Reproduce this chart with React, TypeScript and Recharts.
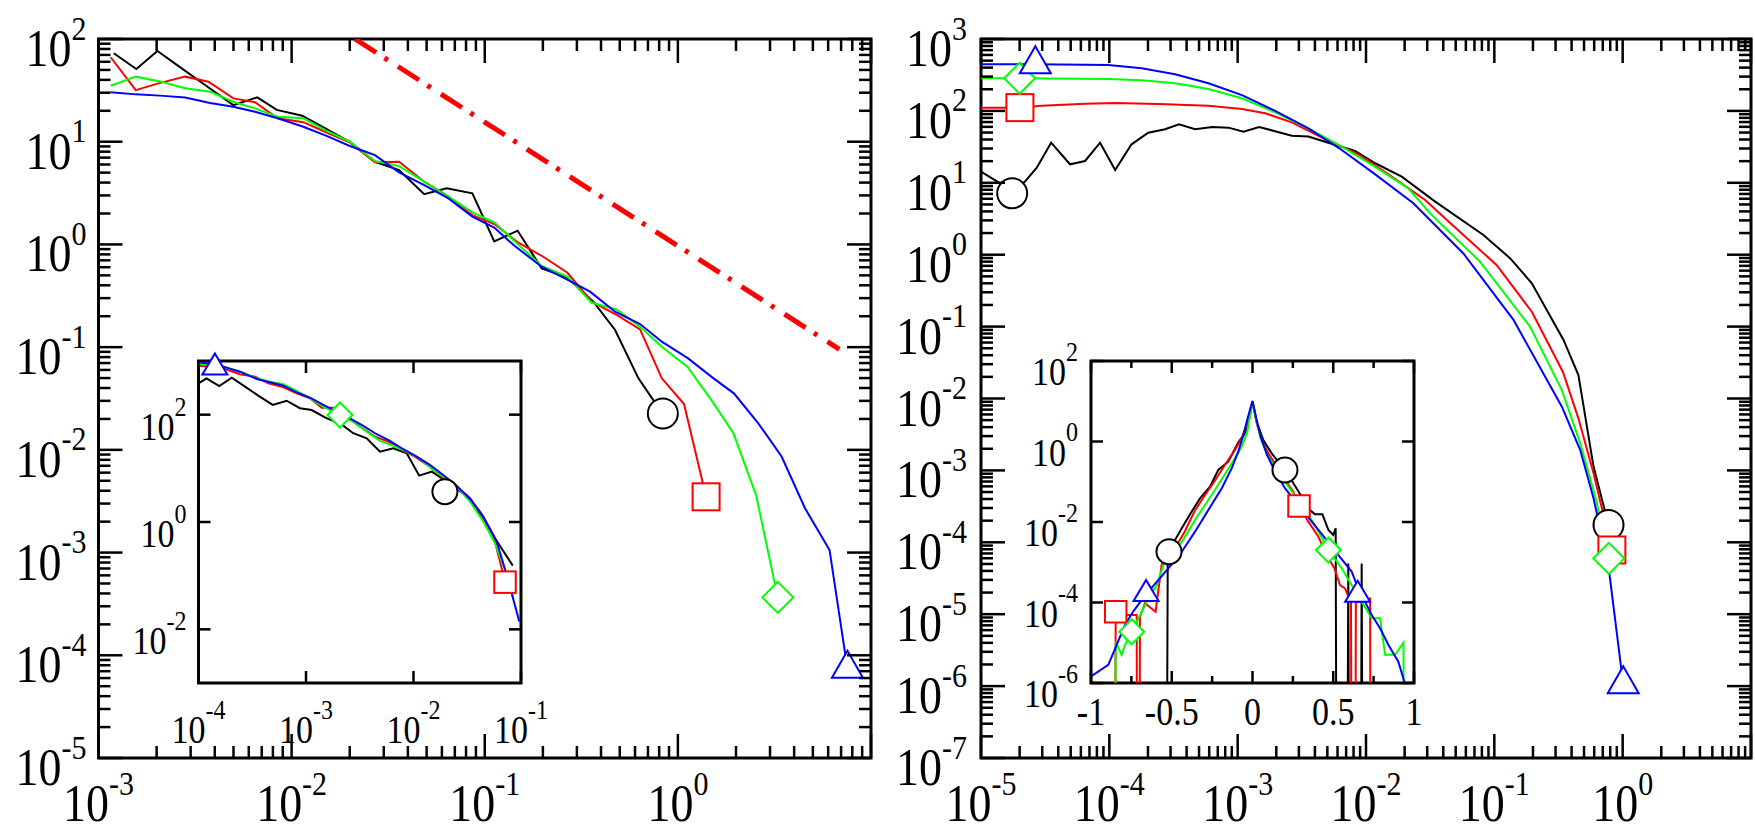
import React from "react";
import { ComposedChart, Line, XAxis, YAxis, ReferenceArea } from "recharts";

type Pt = [number, number];
type Row = { x: number; y: number };

// empty histogram bin: sits far below every y axis, so the curve drops off the frame
const EMPTY = 1e-30;

// ---------- left panel ----------
const leftBlack: Pt[] = [
  [1.2e-3, 72.6], [1.57e-3, 51.1], [2.02e-3, 76.4], [2.63e-3, 53.6], [3.55e-3, 35.9],
  [4.99e-3, 22.7], [6.64e-3, 27.0], [8.38e-3, 20.4], [1.135e-2, 17.9], [1.51e-2, 13.3],
  [2.0e-2, 10.0], [2.7e-2, 6.38], [3.6e-2, 5.3], [4.86e-2, 3.08], [6.35e-2, 3.52],
  [8.63e-2, 3.14], [0.112, 1.07], [0.148, 1.36], [0.197, 0.585], [0.266, 0.479],
  [0.365, 0.277], [0.473, 0.147], [0.625, 0.0497], [0.746, 0.0305], [0.836, 0.0226],
];
const leftRed: Pt[] = [
  [1.156e-3, 66.4], [1.56e-3, 31.8], [2.04e-3, 37.0], [2.81e-3, 43.0], [3.71e-3, 38.4],
  [4.99e-3, 26.4], [6.46e-3, 24.2], [8.47e-3, 16.9], [1.15e-2, 15.5], [1.55e-2, 12.1],
  [2.0e-2, 9.86], [2.7e-2, 6.3], [3.6e-2, 6.38], [4.86e-2, 4.08], [6.49e-2, 2.92],
  [8.63e-2, 1.93], [0.112, 1.58], [0.147, 1.06], [0.201, 0.759], [0.268, 0.53],
  [0.358, 0.277], [0.482, 0.206], [0.637, 0.149], [0.826, 0.0497], [1.076, 0.0279],
  [1.4, 3.49e-3],
];
const leftGreen: Pt[] = [
  [1.156e-3, 35.1], [1.56e-3, 43.0], [2.12e-3, 38.4], [2.81e-3, 33.1], [3.78e-3, 30.7],
  [4.99e-3, 24.5], [6.46e-3, 21.1], [8.47e-3, 17.5], [1.15e-2, 16.9], [1.55e-2, 12.5],
  [2.0e-2, 10.0], [2.7e-2, 6.49], [3.6e-2, 5.79], [4.86e-2, 4.08], [6.49e-2, 2.92],
  [8.63e-2, 2.05], [0.112, 1.64], [0.141, 1.1], [0.197, 0.617], [0.268, 0.485],
  [0.358, 0.27], [0.482, 0.233], [0.637, 0.158], [0.826, 0.101], [1.12, 0.0644],
  [1.47, 0.0317], [1.94, 0.0145], [2.54, 3.63e-3], [3.29, 3.66e-4],
];
const leftBlue: Pt[] = [
  [1.156e-3, 30.3], [1.56e-3, 28.9], [2.08e-3, 28.1], [2.81e-3, 26.9], [3.78e-3, 23.8],
  [4.99e-3, 21.9], [6.46e-3, 19.6], [8.47e-3, 16.9], [1.15e-2, 14.0], [1.55e-2, 11.2],
  [2.0e-2, 9.08], [2.7e-2, 7.41], [3.6e-2, 5.04], [4.86e-2, 3.78], [6.49e-2, 2.81],
  [8.63e-2, 1.86], [0.112, 1.46], [0.141, 0.986], [0.197, 0.607], [0.266, 0.457],
  [0.351, 0.347], [0.473, 0.221], [0.637, 0.168], [0.826, 0.113], [1.13, 0.0778],
  [1.53, 0.0497], [1.95, 0.0355], [2.61, 0.0181], [3.45, 8.57e-3], [4.56, 2.69e-3],
  [6.1, 1.06e-3], [7.55, 7.41e-5],
];
// power-law guide, dash-dot
const leftGuide: Pt[] = [[0.0213, 100], [6.86, 0.0953]];
const leftBlackMarks: Pt[] = [[0.836, 0.0226]];
const leftRedMarks: Pt[] = [[1.4, 3.49e-3]];
const leftGreenMarks: Pt[] = [[3.29, 3.66e-4]];
const leftBlueMarks: Pt[] = [[7.55, 7.41e-5]];

// ---------- left inset ----------
const insetBlack: Pt[] = [
  [1.0e-4, 384], [1.19e-4, 475], [1.56e-4, 342], [2.04e-4, 490], [2.71e-4, 333],
  [3.6e-4, 226], [4.9e-4, 152], [6.61e-4, 182], [8.79e-4, 132], [1.13e-3, 122],
  [1.56e-3, 85.7], [2.07e-3, 69.2], [2.75e-3, 45.1], [3.67e-3, 36.3], [4.88e-3, 20.5],
  [6.49e-3, 23.7], [8.65e-3, 19.1], [1.13e-2, 7.31], [1.48e-2, 8.69], [2.04e-2, 5.65],
  [2.61e-2, 3.96], [3.36e-2, 2.77], [4.46e-2, 1.18], [5.85e-2, 0.465], [8.38e-2, 0.154],
];
const insetRed: Pt[] = [
  [1.0e-4, 817], [1.28e-4, 783], [1.7e-4, 731], [2.43e-4, 565], [3.36e-4, 511],
  [4.47e-4, 384], [5.94e-4, 332], [8.18e-4, 250], [1.09e-3, 202], [1.4e-3, 135],
  [1.79e-3, 135], [2.39e-3, 91.8], [3.18e-3, 59.8], [4.39e-3, 38.9], [5.83e-3, 31.4],
  [7.76e-3, 22.0], [1.03e-2, 16.5], [1.42e-2, 10.8], [1.89e-2, 6.55], [2.43e-2, 4.56],
  [3.13e-2, 3.2], [4.16e-2, 1.56], [5.52e-2, 0.575], [6.38e-2, 0.183], [7.1e-2, 0.0757],
];
const insetGreen: Pt[] = [
  [1.0e-4, 867], [1.28e-4, 867], [1.7e-4, 783], [2.43e-4, 632], [3.48e-4, 475],
  [4.62e-4, 412], [6.15e-4, 368], [8.18e-4, 276], [1.09e-3, 202], [1.45e-3, 141],
  [2.07e-3, 98.6], [2.75e-3, 74.1], [3.67e-3, 48.3], [4.88e-3, 32.4], [6.49e-3, 26.5],
  [8.65e-3, 20.5], [1.15e-2, 15.0], [1.53e-2, 9.33], [2.04e-2, 6.35], [2.61e-2, 4.26],
  [3.36e-2, 2.4], [4.46e-2, 1.02], [5.73e-2, 0.403], [7.36e-2, 0.104], [8.47e-2, 0.0381],
];
const insetBlue: Pt[] = [
  [1.0e-4, 944], [1.37e-4, 867], [1.83e-4, 752], [2.43e-4, 632], [3.48e-4, 462],
  [4.62e-4, 401], [6.15e-4, 347], [8.18e-4, 261], [1.09e-3, 207], [1.45e-3, 152],
  [1.93e-3, 114], [2.56e-3, 85.7], [3.41e-3, 61.7], [4.55e-3, 43.2], [6.04e-3, 32.4],
  [8.04e-3, 22.7], [1.07e-2, 16.5], [1.42e-2, 11.6], [1.89e-2, 7.53], [2.52e-2, 4.76],
  [3.36e-2, 2.69], [4.46e-2, 1.26], [5.94e-2, 0.432], [7.36e-2, 0.104], [9.64e-2, 0.014],
];
const insetBlackMarks: Pt[] = [[1.96e-2, 3.68]];
const insetRedMarks: Pt[] = [[7.1e-2, 0.0757]];
const insetGreenMarks: Pt[] = [[2.07e-3, 98.6]];
const insetBlueMarks: Pt[] = [[1.42e-4, 760]];

// ---------- right panel ----------
const rightBlack: Pt[] = [
  [1e-5, 14.3], [1.41e-5, 9.84], [1.75e-5, 7.14], [2.2e-5, 10.4], [2.72e-5, 16.2],
  [3.52e-5, 36.1], [4.94e-5, 18.1], [6.47e-5, 20.1], [8.47e-5, 36.1], [1.11e-4, 15.1],
  [1.49e-4, 34.3], [2.01e-4, 49.8], [2.72e-4, 55.5], [3.49e-4, 65.0], [4.66e-4, 55.5],
  [6.35e-4, 59.7], [8.47e-4, 58.5], [1.11e-3, 51.4], [1.47e-3, 59.7], [2.02e-3, 51.4],
  [2.64e-3, 45.2], [3.56e-3, 43.9], [4.8e-3, 37.3], [8.22e-3, 27.7], [1.18e-2, 18.7],
  [1.9e-2, 12.2], [3.46e-2, 5.47], [8.22e-2, 1.88], [0.133, 0.889], [0.196, 0.4],
  [0.346, 0.0652], [0.452, 0.0212], [0.593, 1.13e-3], [0.776, 1.74e-4],
];
const rightRed: Pt[] = [
  [1e-5, 111], [2.01e-5, 111], [2.97e-5, 118], [6.47e-5, 126], [1.11e-4, 129],
  [2.41e-4, 125], [5.92e-4, 118], [1.08e-3, 106], [1.64e-3, 92.7], [2.64e-3, 69.3],
  [4.8e-3, 40.6], [8.73e-3, 24.9], [1.59e-2, 12.2], [2.89e-2, 5.77], [4.27e-2, 3.04],
  [0.104, 0.719], [0.196, 0.161], [0.342, 0.0236], [0.452, 5.3e-3], [0.593, 9.1e-4],
  [0.824, 7.82e-5],
];
const rightGreen: Pt[] = [
  [1e-5, 284], [2.0e-5, 284], [9.82e-5, 278], [1.79e-4, 266], [3.25e-4, 242],
  [5.92e-4, 202], [1.08e-3, 150], [1.96e-3, 95.5], [3.56e-3, 57.3], [6.47e-3, 31.8],
  [1.18e-2, 16.7], [2.14e-2, 8.37], [3.16e-2, 3.76], [7.74e-2, 0.8], [0.19, 0.0998],
  [0.336, 0.0131], [0.467, 2.38e-3], [0.622, 3.87e-4], [0.78, 5.98e-5],
];
const rightBlue: Pt[] = [
  [1e-5, 445], [2.65e-5, 445], [9.82e-5, 435], [1.79e-4, 391], [3.25e-4, 323],
  [5.92e-4, 242], [1.08e-3, 166], [1.96e-3, 100], [3.56e-3, 57.3], [6.47e-3, 28.6],
  [1.18e-2, 13.1], [2.34e-2, 5.19], [5.74e-2, 1.04], [0.141, 0.124], [0.336, 7.69e-3],
  [0.467, 1.92e-3], [0.593, 4.09e-4], [0.776, 4.58e-5], [1.01, 1.06e-6],
];
const rightBlackMarks: Pt[] = [[1.75e-5, 7.14], [0.776, 1.74e-4]];
const rightRedMarks: Pt[] = [[2.01e-5, 111], [0.824, 7.82e-5]];
const rightGreenMarks: Pt[] = [[2.0e-5, 284], [0.78, 5.98e-5]];
const rightBlueMarks: Pt[] = [[2.65e-5, 445], [1.01, 1.06e-6]];

// ---------- right inset (linear x) ----------
const pdfBlack: Pt[] = [
  [-1, EMPTY], [-0.55, EMPTY], [-0.525, 9.33e-4], [-0.511, 1.51e-3], [-0.48, 3.55e-3],
  [-0.438, 6.97e-3], [-0.377, 1.8e-2], [-0.325, 3.87e-2], [-0.263, 7.55e-2], [-0.212, 0.196],
  [-0.15, 0.315], [-0.088, 0.953], [-0.046, 1.6], [-0.019, 3.77], [0, 10.1],
  [0.026, 3.1], [0.067, 1.09], [0.119, 0.509], [0.201, 0.196], [0.253, 0.0914],
  [0.305, 0.0426], [0.356, 0.0199], [0.387, 0.0155], [0.433, 0.0155], [0.47, 6.32e-3],
  [0.5, 4.79e-3], [0.515, 6.97e-3], [0.535, EMPTY], [0.57, EMPTY], [0.593, 9.33e-4],
  [0.615, EMPTY], [0.655, EMPTY], [0.676, 9.33e-4], [0.7, EMPTY], [1, EMPTY],
];
const pdfRed: Pt[] = [
  [-1, EMPTY], [-0.87, EMPTY], [-0.847, 5.89e-5], [-0.8, 4.9e-5], [-0.75, 4.9e-5],
  [-0.717, 4.9e-5], [-0.707, EMPTY], [-0.697, 4.47e-5], [-0.666, 9.55e-5], [-0.6, 5.89e-5],
  [-0.562, 8.91e-4], [-0.521, 1.26e-3], [-0.48, 2.24e-3], [-0.42, 5.75e-3], [-0.36, 1.82e-2],
  [-0.294, 4.68e-2], [-0.232, 0.107], [-0.171, 0.261], [-0.109, 0.617], [-0.067, 1.21],
  [-0.036, 2.57], [0, 10.1], [0.026, 2.83], [0.057, 1.09], [0.098, 0.509],
  [0.15, 0.237], [0.201, 0.111], [0.253, 0.0568], [0.288, 0.025], [0.346, 0.0102],
  [0.408, 4.33e-3], [0.459, 1.51e-3], [0.507, 7.08e-4], [0.542, 2.69e-4], [0.573, 2.24e-4],
  [0.61, 1.0e-4], [0.625, EMPTY], [0.64, 1.0e-4], [0.68, 1.12e-4], [0.728, 1.26e-4],
  [0.745, EMPTY], [1, EMPTY],
];
const pdfGreen: Pt[] = [
  [-1, EMPTY], [-0.87, EMPTY], [-0.847, 1.07e-5], [-0.81, 5.01e-6], [-0.789, 8.8e-6],
  [-0.748, 1.88e-5], [-0.645, 1.26e-4], [-0.593, 2.69e-4], [-0.552, 8.51e-4], [-0.48, 1.66e-3],
  [-0.418, 4.33e-3], [-0.356, 1.12e-2], [-0.294, 2.64e-2], [-0.232, 6.31e-2], [-0.171, 0.153],
  [-0.109, 0.382], [-0.067, 0.741], [-0.032, 1.76], [0, 10.1], [0.023, 3.42],
  [0.05, 1.2], [0.091, 0.461], [0.15, 0.196], [0.222, 0.0755], [0.305, 0.0264],
  [0.387, 8.32e-3], [0.47, 2.01e-3], [0.552, 7.08e-4], [0.614, 2.69e-4], [0.676, 1.05e-4],
  [0.738, 4.07e-5], [0.79, 4.07e-5], [0.821, 5.01e-6], [0.883, 5.01e-6], [0.935, 1.0e-5],
  [0.95, EMPTY], [1, EMPTY],
];
const pdfBlue: Pt[] = [
  [-1, 1.45e-6], [-0.893, 2.82e-6], [-0.841, 8.91e-6], [-0.789, 2.82e-5], [-0.738, 6.03e-5],
  [-0.659, 1.62e-4], [-0.593, 3.24e-4], [-0.521, 7.08e-4], [-0.438, 1.82e-3], [-0.356, 5.75e-3],
  [-0.273, 2.0e-2], [-0.19, 6.92e-2], [-0.129, 0.214], [-0.088, 0.562], [-0.057, 1.45],
  [-0.03, 3.77], [0, 10.1], [0.023, 3.77], [0.05, 1.32], [0.091, 0.461],
  [0.14, 0.178], [0.201, 0.0692], [0.284, 0.0263], [0.367, 0.0102], [0.449, 3.98e-3],
  [0.532, 1.51e-3], [0.614, 5.89e-4], [0.651, 2.4e-4], [0.738, 4.9e-5], [0.79, 2.29e-5],
  [0.841, 8.91e-6], [0.903, 3.39e-6], [0.965, 5.0e-7],
];
const pdfBlackMarks: Pt[] = [[-0.517, 1.83e-3], [0.201, 0.196]];
const pdfRedMarks: Pt[] = [[-0.847, 5.89e-5], [0.288, 0.025]];
const pdfGreenMarks: Pt[] = [[-0.748, 1.88e-5], [0.47, 2.01e-3]];
const pdfBlueMarks: Pt[] = [[-0.659, 1.62e-4], [0.651, 1.55e-4]];

// ---------- ticks ----------
const leftXDecades = [1e-3, 1e-2, 1e-1, 1, 10];
const leftYDecades = [1e-5, 1e-4, 1e-3, 1e-2, 1e-1, 1, 10, 100];
const rightXDecades = [1e-5, 1e-4, 1e-3, 1e-2, 1e-1, 1, 10];
const rightYDecades = [1e-7, 1e-6, 1e-5, 1e-4, 1e-3, 1e-2, 1e-1, 1, 10, 100, 1000];
const insetXTicks = [1e-4, 1e-3, 1e-2, 1e-1];
const insetYTicks = [1e-2, 1, 100];
const pdfXTicks = [-1, -0.75, -0.5, -0.25, 0, 0.25, 0.5, 0.75, 1];
const pdfYTicks = [1e-6, 1e-4, 1e-2, 1, 100];

const withMinors = (decades: number[]) => {
  const out: number[] = [];
  decades.forEach((d, i) => {
    out.push(d);
    if (i < decades.length - 1) for (let k = 2; k <= 9; k++) out.push(d * k);
  });
  return out;
};

const COLORS = { black: "#000000", red: "#ff0000", green: "#00ff00", blue: "#0000ff" };
const SERIF = "'Liberation Serif', 'DejaVu Serif', 'Times New Roman', serif";
const TICK_W = 2.5;

type Txt = { font: number; sup: number; raise: number; sy: number };
const MAIN_TXT: Txt = { font: 46, sup: 30, raise: 23, sy: 1.15 };
const INSET_TXT: Txt = { font: 34, sup: 24, raise: 21, sy: 1.15 };

type Frame = { left: number; right: number; top: number; bottom: number };
type Shape = "circle" | "square" | "diamond" | "triangle";
type MarkSize = { r: number; sq: number; dia: number; triB: number; triH: number };
const BIG: MarkSize = { r: 15, sq: 27, dia: 15.5, triB: 31, triH: 27 };
const SMALL: MarkSize = { r: 12.5, sq: 21.5, dia: 12.5, triB: 25, triH: 21 };

const rows = (pts: Pt[]): Row[] => pts.map(([x, y]) => ({ x, y }));
const isDecade = (v: number) => Math.abs(Math.log10(v) - Math.round(Math.log10(v))) < 1e-6;

function PowerLabel({ x, y, v, anchor, t }: { x: number; y: number; v: number; anchor: "middle" | "end"; t: Txt }) {
  return (
    <g transform={`translate(${x},${y}) scale(1,${t.sy})`}>
      <text x={0} y={0} textAnchor={anchor} fontFamily={SERIF} fontSize={t.font} fill="#000">
        10
        <tspan dy={-t.raise} fontSize={t.sup}>
          {Math.round(Math.log10(v))}
        </tspan>
      </text>
    </g>
  );
}

function PlainLabel({ x, y, text, t }: { x: number; y: number; text: string; t: Txt }) {
  return (
    <g transform={`translate(${x},${y}) scale(1,${t.sy})`}>
      <text x={0} y={0} textAnchor="middle" fontFamily={SERIF} fontSize={t.font} fill="#000">
        {text}
      </text>
    </g>
  );
}

type XTickOpts = {
  len: (v: number) => number;
  label: (v: number, x: number, y: number) => React.ReactNode;
  dy: number;
};
const makeXTick = (f: Frame, o: XTickOpts) => (props: any) => {
  const x = props.x as number;
  const v = props.payload.value as number;
  const l = o.len(v);
  return (
    <g>
      <line x1={x} x2={x} y1={f.bottom} y2={f.bottom - l} stroke="#000" strokeWidth={TICK_W} />
      <line x1={x} x2={x} y1={f.top} y2={f.top + l} stroke="#000" strokeWidth={TICK_W} />
      {o.label(v, x, f.bottom + o.dy)}
    </g>
  );
};

type YTickOpts = {
  len: (v: number) => number;
  label: (v: number, x: number, y: number) => React.ReactNode;
  gap: number;
  dy: number;
};
const makeYTick = (f: Frame, o: YTickOpts) => (props: any) => {
  const y = props.y as number;
  const v = props.payload.value as number;
  const l = o.len(v);
  return (
    <g>
      <line x1={f.left} x2={f.left + l} y1={y} y2={y} stroke="#000" strokeWidth={TICK_W} />
      <line x1={f.right} x2={f.right - l} y1={y} y2={y} stroke="#000" strokeWidth={TICK_W} />
      {o.label(v, f.left - o.gap, y + o.dy)}
    </g>
  );
};

function Marker({ cx, cy, shape, color, s }: { cx: number; cy: number; shape: Shape; color: string; s: MarkSize }) {
  const st = { fill: "#ffffff", stroke: color, strokeWidth: 2 };
  if (shape === "circle") return <circle cx={cx} cy={cy} r={s.r} {...st} />;
  if (shape === "square")
    return <rect x={cx - s.sq / 2} y={cy - s.sq / 2} width={s.sq} height={s.sq} {...st} />;
  if (shape === "diamond")
    return (
      <polygon
        points={`${cx},${cy - s.dia} ${cx + s.dia},${cy} ${cx},${cy + s.dia} ${cx - s.dia},${cy}`}
        {...st}
      />
    );
  return (
    <polygon
      points={`${cx},${cy - (2 * s.triH) / 3} ${cx + s.triB / 2},${cy + s.triH / 3} ${cx - s.triB / 2},${cy + s.triH / 3}`}
      {...st}
    />
  );
}

type Curve = { pts: Pt[]; color: string; width?: number; dash?: string; marks?: Pt[]; shape?: Shape };

type PanelProps = {
  box: { x: number; y: number; w: number; h: number };
  frame: { top: number; right: number; bottom: number; left: number }; // plot-area insets
  xScale: "log" | "linear";
  xDomain: [number, number];
  yDomain: [number, number];
  xTicks: number[];
  yTicks: number[];
  xTick: (f: Frame) => (props: any) => React.ReactElement;
  yTick: (f: Frame) => (props: any) => React.ReactElement;
  curves: Curve[];
  markSize: MarkSize;
  clip: boolean;
};

// axes keep a 1px band so recharts still renders their ticks
const AXIS_BAND = 1;

function Panel(p: PanelProps) {
  const f: Frame = {
    left: p.frame.left,
    top: p.frame.top,
    right: p.box.w - p.frame.right,
    bottom: p.box.h - p.frame.bottom,
  };
  const margin = {
    top: p.frame.top,
    right: p.frame.right,
    bottom: p.frame.bottom - AXIS_BAND,
    left: p.frame.left - AXIS_BAND,
  };
  return (
    <div style={{ position: "absolute", left: p.box.x, top: p.box.y, width: p.box.w, height: p.box.h }}>
      <ComposedChart width={p.box.w} height={p.box.h} margin={margin}>
        <XAxis
          dataKey="x"
          type="number"
          scale={p.xScale}
          domain={p.xDomain}
          allowDataOverflow={p.clip}
          ticks={p.xTicks}
          interval={0}
          tick={p.xTick(f)}
          tickLine={false}
          axisLine={false}
          height={AXIS_BAND}
        />
        <YAxis
          dataKey="y"
          type="number"
          scale="log"
          domain={p.yDomain}
          allowDataOverflow={p.clip}
          ticks={p.yTicks}
          interval={0}
          tick={p.yTick(f)}
          tickLine={false}
          axisLine={false}
          width={AXIS_BAND}
        />
        <ReferenceArea
          x1={p.xDomain[0]}
          x2={p.xDomain[1]}
          y1={p.yDomain[0]}
          y2={p.yDomain[1]}
          fill="none"
          stroke="#000"
          strokeWidth={3}
          ifOverflow="visible"
        />
        {p.curves.flatMap((c, i) => {
          const items = [
            <Line
              key={`l${i}`}
              data={rows(c.pts)}
              dataKey="y"
              type="linear"
              stroke={c.color}
              strokeWidth={c.width ?? 2}
              strokeDasharray={c.dash}
              dot={false}
              activeDot={false}
              isAnimationActive={false}
            />,
          ];
          if (c.marks && c.shape) {
            const shape = c.shape;
            items.push(
              <Line
                key={`m${i}`}
                data={rows(c.marks)}
                dataKey="y"
                type="linear"
                stroke="none"
                activeDot={false}
                dot={(d: any) => (
                  <Marker key={`d${i}-${d.index}`} cx={d.cx} cy={d.cy} shape={shape} color={c.color} s={p.markSize} />
                )}
                isAnimationActive={false}
              />
            );
          }
          return items;
        })}
      </ComposedChart>
    </div>
  );
}

const logLen = (major: number, minor: number) => (v: number) => (isDecade(v) ? major : minor);
const halfStep = (v: number) => Math.abs(v * 2 - Math.round(v * 2)) < 1e-9;

export default function App() {
  return (
    <div style={{ position: "absolute", left: 0, top: 0, width: 1755, height: 834, background: "#fff" }}>
      {/* left: main log-log axes */}
      <Panel
        box={{ x: 0, y: 0, w: 880, h: 834 }}
        frame={{ top: 39, right: 9, bottom: 76, left: 98.5 }}
        xScale="log"
        xDomain={[1e-3, 10]}
        yDomain={[1e-5, 100]}
        xTicks={withMinors(leftXDecades)}
        yTicks={withMinors(leftYDecades)}
        xTick={(f) =>
          makeXTick(f, {
            len: logLen(24, 12),
            dy: 63,
            label: (v, x, y) =>
              isDecade(v) && v <= 1 ? <PowerLabel x={x} y={y} v={v} anchor="middle" t={MAIN_TXT} /> : null,
          })
        }
        yTick={(f) =>
          makeYTick(f, {
            len: logLen(24, 12),
            gap: 12,
            dy: 27,
            label: (v, x, y) => (isDecade(v) ? <PowerLabel x={x} y={y} v={v} anchor="end" t={MAIN_TXT} /> : null),
          })
        }
        curves={[
          { pts: leftBlack, color: COLORS.black, marks: leftBlackMarks, shape: "circle" },
          { pts: leftRed, color: COLORS.red, marks: leftRedMarks, shape: "square" },
          { pts: leftGreen, color: COLORS.green, marks: leftGreenMarks, shape: "diamond" },
          { pts: leftBlue, color: COLORS.blue, marks: leftBlueMarks, shape: "triangle" },
          { pts: leftGuide, color: COLORS.red, width: 5, dash: "25 10 4 12" },
        ]}
        markSize={BIG}
        clip
      />
      {/* right: main log-log axes */}
      <Panel
        box={{ x: 880, y: 0, w: 875, h: 834 }}
        frame={{ top: 39, right: 4, bottom: 76, left: 101 }}
        xScale="log"
        xDomain={[1e-5, 10]}
        yDomain={[1e-7, 1000]}
        xTicks={withMinors(rightXDecades)}
        yTicks={withMinors(rightYDecades)}
        xTick={(f) =>
          makeXTick(f, {
            len: logLen(24, 12),
            dy: 63,
            label: (v, x, y) =>
              isDecade(v) && v <= 1 ? <PowerLabel x={x} y={y} v={v} anchor="middle" t={MAIN_TXT} /> : null,
          })
        }
        yTick={(f) =>
          makeYTick(f, {
            len: logLen(24, 12),
            gap: 14,
            dy: 27,
            label: (v, x, y) => (isDecade(v) ? <PowerLabel x={x} y={y} v={v} anchor="end" t={MAIN_TXT} /> : null),
          })
        }
        curves={[
          { pts: rightBlack, color: COLORS.black, marks: rightBlackMarks, shape: "circle" },
          { pts: rightRed, color: COLORS.red, marks: rightRedMarks, shape: "square" },
          { pts: rightGreen, color: COLORS.green, marks: rightGreenMarks, shape: "diamond" },
          { pts: rightBlue, color: COLORS.blue, marks: rightBlueMarks, shape: "triangle" },
        ]}
        markSize={BIG}
        clip
      />
      {/* left inset */}
      <Panel
        box={{ x: 100, y: 300, w: 450, h: 480 }}
        frame={{ top: 61, right: 29, bottom: 97, left: 98.5 }}
        xScale="log"
        xDomain={[1e-4, 1e-1]}
        yDomain={[1e-3, 1e3]}
        xTicks={insetXTicks}
        yTicks={insetYTicks}
        xTick={(f) =>
          makeXTick(f, {
            len: () => 12,
            dy: 60,
            label: (v, x, y) => <PowerLabel x={x} y={y} v={v} anchor="middle" t={INSET_TXT} />,
          })
        }
        yTick={(f) =>
          makeYTick(f, {
            len: () => 12,
            gap: 12,
            dy: 25,
            label: (v, x, y) => <PowerLabel x={x} y={y} v={v} anchor="end" t={INSET_TXT} />,
          })
        }
        curves={[
          { pts: insetBlack, color: COLORS.black, marks: insetBlackMarks, shape: "circle" },
          { pts: insetRed, color: COLORS.red, marks: insetRedMarks, shape: "square" },
          { pts: insetGreen, color: COLORS.green, marks: insetGreenMarks, shape: "diamond" },
          { pts: insetBlue, color: COLORS.blue, marks: insetBlueMarks, shape: "triangle" },
        ]}
        markSize={SMALL}
        clip={false}
      />
      {/* right inset: lin-log */}
      <Panel
        box={{ x: 990, y: 300, w: 450, h: 460 }}
        frame={{ top: 61, right: 26, bottom: 77, left: 101 }}
        xScale="linear"
        xDomain={[-1, 1]}
        yDomain={[1e-6, 100]}
        xTicks={pdfXTicks}
        yTicks={pdfYTicks}
        xTick={(f) =>
          makeXTick(f, {
            len: (v) => (halfStep(v) ? 12 : 7),
            dy: 42,
            label: (v, x, y) => (halfStep(v) ? <PlainLabel x={x} y={y} text={String(v)} t={INSET_TXT} /> : null),
          })
        }
        yTick={(f) =>
          makeYTick(f, {
            len: () => 12,
            gap: 13,
            dy: 24,
            label: (v, x, y) => <PowerLabel x={x} y={y} v={v} anchor="end" t={INSET_TXT} />,
          })
        }
        curves={[
          { pts: pdfBlack, color: COLORS.black, marks: pdfBlackMarks, shape: "circle" },
          { pts: pdfRed, color: COLORS.red, marks: pdfRedMarks, shape: "square" },
          { pts: pdfGreen, color: COLORS.green, marks: pdfGreenMarks, shape: "diamond" },
          { pts: pdfBlue, color: COLORS.blue, marks: pdfBlueMarks, shape: "triangle" },
        ]}
        markSize={SMALL}
        clip
      />
    </div>
  );
}
